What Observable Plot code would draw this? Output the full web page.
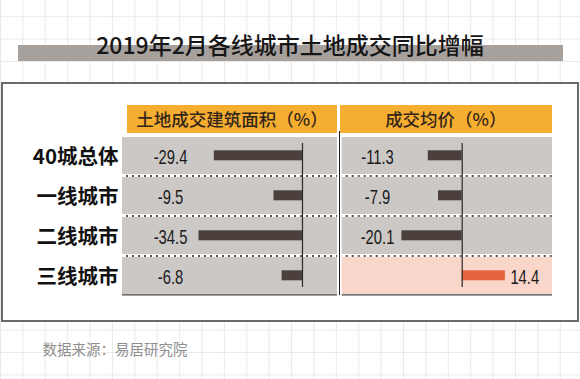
<!DOCTYPE html>
<html><head><meta charset="utf-8">
<script src="https://cdn.jsdelivr.net/npm/d3@7"></script>
<script src="https://cdn.jsdelivr.net/npm/@observablehq/plot@0.6"></script>
<style>
html,body{margin:0;padding:0;}
body{width:580px;height:379px;position:relative;overflow:hidden;background-color:#fff;
background-image:linear-gradient(to right,#e9e9e9 1px,transparent 1px),linear-gradient(to bottom,#e9e9e9 1px,transparent 1px);
background-size:22.4px 22.4px;background-position:0 16.2px;font-family:"Noto Sans CJK SC",sans-serif;}
.abs{position:absolute;}
#titlebar{left:18px;top:45px;width:545px;height:16px;background:#a7a19e;}
#title{left:0;width:580px;top:28px;text-align:center;font-size:23px;line-height:32px;color:#161616;font-weight:500;}
#box{left:1px;top:82px;width:574px;height:236px;border:2px solid #6a6a6a;background:#fff;}
.hdr{top:104.5px;height:28px;background:#f5ae2f;color:#35261b;font-size:17.5px;line-height:28px;text-align:center;font-weight:500;}
#sep{left:338.5px;top:131px;width:1.5px;height:164px;background:#222;}
#caption{left:42.5px;top:339px;font-size:14.5px;line-height:20px;color:#8f8f8f;}
#plotA{left:0;top:132px;}
#plotB{left:339px;top:132px;}
</style>
</head><body>
<div id="titlebar" class="abs"></div>
<div id="title" class="abs"></div>
<div id="box" class="abs"></div>
<div id="hdrA" class="abs hdr" style="left:127px;width:210px;"></div>
<div id="hdrB" class="abs hdr" style="left:340px;width:211.7px;"></div>
<div id="plotA" class="abs"></div>
<div id="plotB" class="abs"></div>
<div id="sep" class="abs"></div>
<div id="caption" class="abs"></div>
<script>
const title = "2019年2月各线城市土地成交同比增幅";
const headers = ["土地成交建筑面积（%）", "成交均价（%）"];
const cities = ["40城总体", "一线城市", "二线城市", "三线城市"];
const areaGrowth = [-29.4, -9.5, -34.5, -6.8];
const priceGrowth = [-11.3, -7.9, -20.1, 14.4];
const source = "数据来源：易居研究院";

document.getElementById("title").textContent = title;
document.getElementById("hdrA").textContent = headers[0];
document.getElementById("hdrB").textContent = headers[1];
document.getElementById("caption").textContent = source;

const H = 165, MT = 5, MB = 3, PI = 0.08;
const step = (H - MT - MB) / (cities.length - PI);
const bw = step * (1 - PI), gap = step * PI;
const numFont = "'Liberation Sans',sans-serif";

function panel(values, {width, marginLeft, domain, labelDx, rowLabels, pinkLast}) {
  const rows = cities.map((c, i) => ({city: c, v: values[i], bg: (pinkLast && i === cities.length - 1) ? "#f9d5ca" : "#cbc8c6"}));
  const marks = [
    Plot.barX(rows, {x1: () => domain[0], x2: () => domain[1], y: "city", fill: "bg"}),
    Plot.ruleY(cities.slice(0, -1), {y: d => d, dy: bw / 2 + gap / 2, stroke: "#555", strokeWidth: 2}),
    Plot.ruleY(cities.slice(0, -1), {y: d => d, dy: bw / 2 + gap / 2, stroke: "#fff", strokeWidth: 2, strokeDasharray: "4,2"}),
    Plot.ruleY(cities.slice(-1), {y: d => d, dy: bw / 2 + 0.5, stroke: "#444", strokeWidth: 1.2}),
    Plot.barX(rows, {x: "v", y: "city", fill: d => d.v < 0 ? "#4b403b" : "#e5643f", insetTop: 13.3, insetBottom: 13.7}),
    Plot.ruleX([0], {stroke: "#2a2a2a", strokeWidth: 1.2, insetTop: 6, insetBottom: 7}),
    Plot.text(rows.filter(d => d.v < 0), {frameAnchor: "left", y: "city", text: d => d.v.toFixed(1), dx: labelDx, dy: 1.5, textAnchor: "middle", fontSize: 20, fontFamily: numFont, fill: "#1a1a1a", className: "num"}),
    Plot.text(rows.filter(d => d.v >= 0), {x: "v", y: "city", text: d => d.v.toFixed(1), dx: 5, dy: 1.5, textAnchor: "start", fontSize: 20, fontFamily: numFont, fill: "#1a1a1a", className: "num"})
  ];
  if (rowLabels) marks.push(Plot.text(rows, {frameAnchor: "left", y: "city", text: "city", dx: -4, dy: 1.5, textAnchor: "end", fontSize: 20.5, fontWeight: "bold", fill: "#111", fontFamily: "'Noto Sans CJK SC',sans-serif"}));
  const svg = Plot.plot({
    width, height: H, marginLeft, marginRight: 0, marginTop: MT, marginBottom: MB,
    x: {domain, axis: null},
    y: {domain: cities, axis: null, paddingInner: PI, paddingOuter: 0},
    color: {type: "identity"},
    style: {background: "transparent", overflow: "visible"},
    marks
  });
  // condense the numeric labels horizontally
  d3.select(svg).selectAll("g.num text").each(function() {
    const t = this.getAttribute("transform") || "";
    this.setAttribute("transform", (t + " scale(0.74,1)").trim());
  });
  return svg;
}

document.getElementById("plotA").append(panel(areaGrowth, {width: 337, marginLeft: 122, domain: [-60, 11.67], labelDx: 48, rowLabels: true, pinkLast: false}));
document.getElementById("plotB").append(panel(priceGrowth, {width: 213, marginLeft: 2.7, domain: [-40, 30.1], labelDx: 35.3, rowLabels: false, pinkLast: true}));
</script>
</body></html>
